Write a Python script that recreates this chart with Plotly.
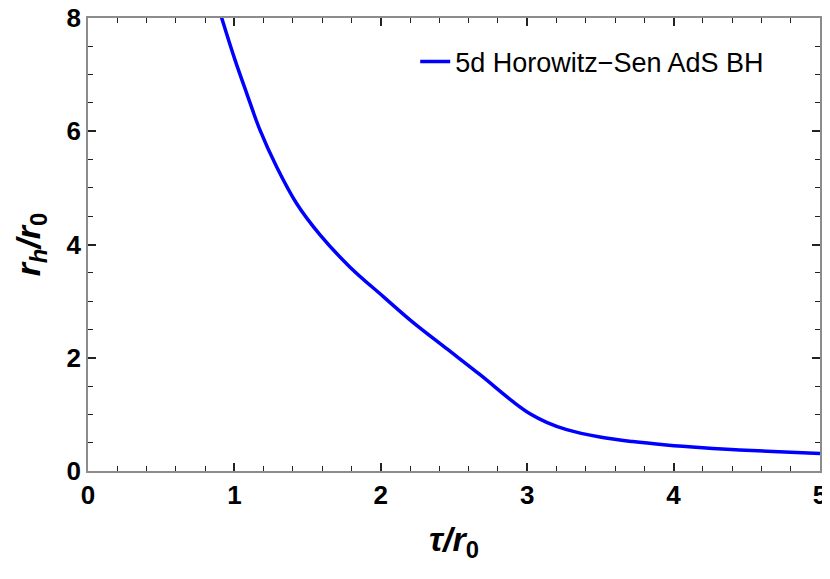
import plotly.graph_objects as go

# curve
tau = [0.90, 0.924, 1.004, 1.084, 1.175, 1.289, 1.426, 1.585, 1.79, 2.017,
       2.222, 2.45, 2.678, 2.905, 3.019, 3.133, 3.27, 3.497, 3.72, 3.95,
       4.2, 4.45, 4.72, 5.0]
rh = [8.12, 7.91, 7.26, 6.67, 6.02, 5.37, 4.72, 4.17, 3.60, 3.08,
      2.62, 2.16, 1.70, 1.22, 1.01, 0.86, 0.73, 0.60, 0.52, 0.46,
      0.41, 0.37, 0.34, 0.31]

series_name = "5d Horowitz\u2212Sen AdS BH"

fig = go.Figure()
fig.add_trace(go.Scatter(
    x=tau, y=rh, mode="lines", name=series_name,
    line=dict(color="#0000ff", width=3.5, shape="spline", smoothing=1.0),
))

tick_font = dict(family="Liberation Sans", size=26, color="black", weight="bold")
title_font = dict(family="Liberation Sans", size=34, color="black")

axis_common = dict(
    showline=True, linecolor="#8c8c8c", linewidth=1.5, mirror="allticks",
    ticks="inside", ticklen=8, tickwidth=1.5, tickcolor="#222222",
    showgrid=False, zeroline=False, automargin=False,
    ticklabeloverflow="allow", tickfont=tick_font,
)

fig.update_xaxes(
    range=[0, 5], dtick=1, tick0=0,
    minor=dict(dtick=0.2, ticks="inside", ticklen=5, tickwidth=1.3, tickcolor="#222222"),
    title=dict(text="<b><i>\u03c4/r</i><sub>0</sub></b>", font=title_font, standoff=18),
    **axis_common,
)
fig.update_yaxes(
    range=[0, 8], dtick=2, tick0=0,
    minor=dict(dtick=0.5, ticks="inside", ticklen=5, tickwidth=1.3, tickcolor="#222222"),
    title=dict(text="<b><i>r</i><sub><i>h</i></sub><i>/r</i><sub>0</sub></b>",
               font=title_font, standoff=16),
    **axis_common,
)

# the page body adds an 8px offset, so the figure is sized to leave room for it
fig.update_layout(
    width=822, height=571,
    margin=dict(l=80, r=10, t=10, b=108),
    plot_bgcolor="white", paper_bgcolor="white",
    showlegend=True,
    legend=dict(x=0.447, y=0.903, xanchor="left", yanchor="middle",
                bgcolor="rgba(0,0,0,0)",
                font=dict(family="Liberation Sans", size=27, color="black")),
)

fig.write_html("out.html")
